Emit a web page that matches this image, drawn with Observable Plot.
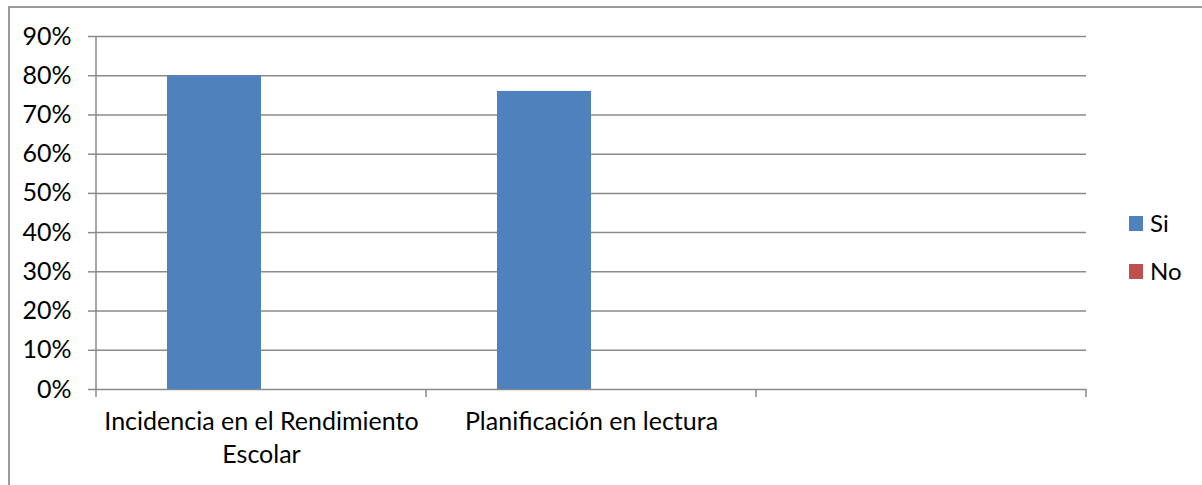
<!DOCTYPE html>
<html>
<head>
<meta charset="utf-8">
<script src="https://cdn.jsdelivr.net/npm/d3@7"></script>
<script src="https://cdn.jsdelivr.net/npm/@observablehq/plot@0.6"></script>
<style>
  html, body { margin: 0; padding: 0; background: #fff; }
  #wrap { position: relative; width: 1202px; height: 485px; overflow: hidden; font-family: Lato, "Open Sans", sans-serif; }
  #border { position: absolute; left: 8px; top: 6px; width: 1400px; height: 700px; border: 2px solid #9a9a9a; box-sizing: border-box; }
  #chart { position: absolute; left: 0; top: 0; }
  .legend { position: absolute; left: 1129px; font-size: 24px; color: #000; }
  .legend .sw { position: absolute; left: 0; width: 14px; height: 15px; }
  .legend .lb { position: absolute; left: 21px; line-height: 24px; white-space: nowrap; }
</style>
</head>
<body>
<div id="wrap">
  <div id="border"></div>
  <div id="chart"></div>
  <div id="legend"></div>
</div>
<script>
// ---- data ----
const categories = ["Incidencia en el Rendimiento Escolar", "Planificación en lectura", ""];
const categoryLabels = ["Incidencia en el Rendimiento\nEscolar", "Planificación en lectura", ""];
const seriesNames = ["Si", "No"];
const siValues = [0.80, 0.76, null];
const noValues = [0, 0, null];
const yTicks = [0, 0.1, 0.2, 0.3, 0.4, 0.5, 0.6, 0.7, 0.8, 0.9];
const seriesColors = ["#4F81BD", "#C0504D"];

const gridColor = "#8a8a8a";

const siData = categories.map((c, i) => ({cat: c, value: siValues[i]})).filter(d => d.value != null);
const noData = categories.map((c, i) => ({cat: c, value: noValues[i]})).filter(d => d.value != null);
const labelOf = new Map(categories.map((c, i) => [c, categoryLabels[i]]));

// axis line + category boundary ticks drawn from the scales
function axisLines(index, scales) {
  const x = scales.x, y = scales.y;
  const bw = typeof x.bandwidth === "function" ? x.bandwidth() : x.bandwidth;
  const y0 = y(0), yTop = y(yTicks[yTicks.length - 1]);
  const g = d3.create("svg:g").attr("stroke", gridColor).attr("stroke-width", 1.5).attr("fill", "none");
  const x0 = x(categories[0]);
  g.append("line").attr("x1", x0).attr("x2", x0).attr("y1", yTop).attr("y2", y0);
  const bounds = categories.map(c => x(c)).concat([x(categories[categories.length - 1]) + bw]);
  for (const bx of bounds) {
    g.append("line").attr("x1", bx).attr("x2", bx).attr("y1", y0).attr("y2", y0 + 8);
  }
  return g.node();
}

const plot = Plot.plot({
  width: 1202,
  height: 485,
  marginLeft: 96,
  marginRight: 116,
  marginTop: 36,
  marginBottom: 96,
  style: {fontFamily: "Lato, 'Open Sans', sans-serif", fontSize: "25px", color: "#000", background: "transparent"},
  x: {domain: categories, padding: 0, label: null},
  y: {domain: [0, 0.9], label: null},
  marks: [
    Plot.gridY(yTicks, {stroke: gridColor, strokeOpacity: 1, strokeWidth: 1.5}),
    Plot.barY(siData, {x: "cat", y: "value", fill: seriesColors[0], insetLeft: 71, insetRight: 165}),
    Plot.barY(noData, {x: "cat", y: "value", fill: seriesColors[1], insetLeft: 165, insetRight: 71}),
    axisLines,
    Plot.axisY({ticks: yTicks, tickSize: 8, tickPadding: 17, stroke: gridColor, strokeWidth: 1.5, tickFormat: d => Math.round(d * 100) + "%", fontSize: 25, label: null}),
    Plot.axisX({tickSize: 0, tickPadding: 17, tickFormat: d => labelOf.get(d), fontSize: 25, lineHeight: 1.32, label: null})
  ]
});
document.getElementById("chart").appendChild(plot);

// legend
const legend = document.getElementById("legend");
const legendTops = [216, 264];
seriesNames.forEach((name, i) => {
  const item = document.createElement("div");
  item.className = "legend";
  item.style.top = legendTops[i] + "px";
  item.innerHTML = `<div class="sw" style="background:${seriesColors[i]}"></div><div class="lb" style="top:-5px">${name}</div>`;
  legend.appendChild(item);
});
</script>
</body>
</html>
